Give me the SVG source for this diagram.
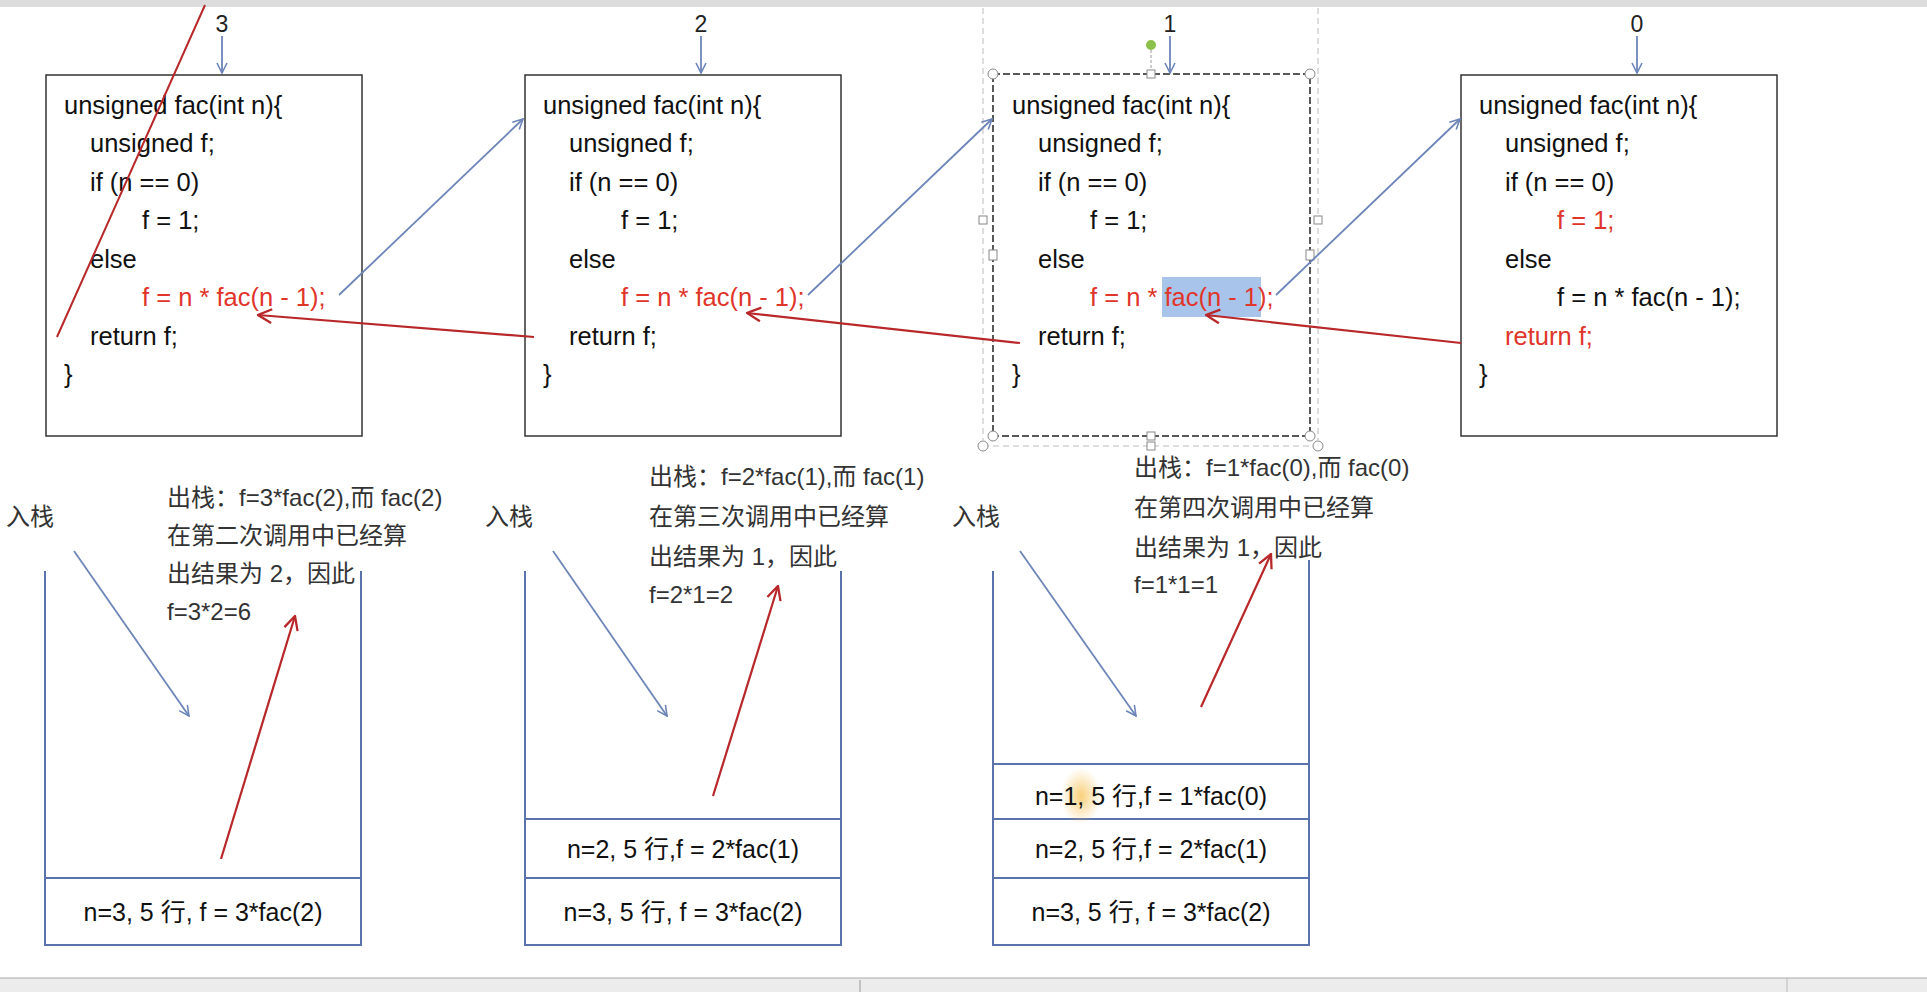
<svg xmlns="http://www.w3.org/2000/svg" width="1927" height="992" viewBox="0 0 1927 992">
<defs>
<style>
.code{font-family:"Liberation Sans","Noto Sans CJK SC",sans-serif;font-size:25.5px;fill:#111}
.r{fill:#e0352b}
.box{fill:#fff;stroke:#333;stroke-width:1.5}
.num{font-family:"Liberation Sans",sans-serif;font-size:23px;fill:#222;text-anchor:middle}
.note{font-family:"Liberation Sans","Noto Sans CJK SC",sans-serif;font-size:24px;fill:#333}
.stk{font-family:"Liberation Sans","Noto Sans CJK SC",sans-serif;font-size:25px;fill:#111;text-anchor:middle}
.bl{stroke:#6d85b8;stroke-width:1.8;fill:none}
.rd{stroke:#b8282a;stroke-width:2.2;fill:none}
.sl{stroke:#5a73ad;stroke-width:2;fill:none}
.h{fill:#fff;stroke:#888;stroke-width:1}
</style>
<marker id="ab" viewBox="0 0 12 12" refX="11" refY="6" markerWidth="12" markerHeight="12" markerUnits="userSpaceOnUse" orient="auto"><path d="M1,1 L11,6 L1,11" fill="none" stroke="#6d85b8" stroke-width="1.6"/></marker>
<marker id="ar" viewBox="0 0 14 14" refX="13" refY="7" markerWidth="16" markerHeight="16" markerUnits="userSpaceOnUse" orient="auto"><path d="M1,1 L13,7 L1,13" fill="none" stroke="#b8282a" stroke-width="2"/></marker>
<radialGradient id="og"><stop offset="0" stop-color="#f7c45a" stop-opacity="0.8"/><stop offset="1" stop-color="#f7c45a" stop-opacity="0"/></radialGradient>
</defs>
<rect width="1927" height="992" fill="#fff"/>
<rect x="0" y="0" width="1927" height="7" fill="#dcdcdc"/>
<rect x="0" y="978" width="1927" height="14" fill="#ececec"/>
<line x1="0" y1="978" x2="1927" y2="978" stroke="#aaa"/>
<line x1="860" y1="980" x2="860" y2="992" stroke="#999"/>
<line x1="1787" y1="978" x2="1787" y2="992" stroke="#bbb"/>

<g id="box1">
<rect class="box" x="46" y="75" width="316" height="361"/>
<text class="code" x="64" y="114">unsigned fac(int n){</text>
<text class="code" x="90" y="152">unsigned f;</text>
<text class="code" x="90" y="191">if (n == 0)</text>
<text class="code" x="142" y="229">f = 1;</text>
<text class="code" x="90" y="268">else</text>
<text class="code r" x="142" y="306">f = n * fac(n - 1);</text>
<text class="code" x="90" y="345">return f;</text>
<text class="code" x="64" y="383">}</text>
</g>
<g id="box2">
<rect class="box" x="525" y="75" width="316" height="361"/>
<text class="code" x="543" y="114">unsigned fac(int n){</text>
<text class="code" x="569" y="152">unsigned f;</text>
<text class="code" x="569" y="191">if (n == 0)</text>
<text class="code" x="621" y="229">f = 1;</text>
<text class="code" x="569" y="268">else</text>
<text class="code r" x="621" y="306">f = n * fac(n - 1);</text>
<text class="code" x="569" y="345">return f;</text>
<text class="code" x="543" y="383">}</text>
</g>
<g id="box3">
<line x1="983" y1="8" x2="983" y2="440" stroke="#bbb" stroke-dasharray="6,4"/>
<line x1="1318" y1="8" x2="1318" y2="440" stroke="#bbb" stroke-dasharray="6,4"/>
<line x1="983" y1="446" x2="1318" y2="446" stroke="#bbb" stroke-dasharray="6,4"/>
<rect x="993" y="74" width="317" height="362" fill="#fff" stroke="#222" stroke-width="1.5" stroke-dasharray="7,3"/>
<line x1="1151" y1="50" x2="1151" y2="74" stroke="#999" stroke-dasharray="3,2"/>
<circle cx="1151" cy="45" r="5" fill="#8cc04a"/>
<rect x="1162" y="277" width="99" height="40" fill="#a9c4ea"/>
<text class="code" x="1012" y="114">unsigned fac(int n){</text>
<text class="code" x="1038" y="152">unsigned f;</text>
<text class="code" x="1038" y="191">if (n == 0)</text>
<text class="code" x="1090" y="229">f = 1;</text>
<text class="code" x="1038" y="268">else</text>
<text class="code r" x="1090" y="306">f = n * fac(n - 1);</text>
<text class="code" x="1038" y="345">return f;</text>
<text class="code" x="1012" y="383">}</text>
<circle class="h" cx="993" cy="74" r="5"/><circle class="h" cx="1310" cy="74" r="5"/>
<circle class="h" cx="993" cy="436" r="5"/><circle class="h" cx="1310" cy="436" r="5"/>
<circle class="h" cx="983" cy="446" r="5"/><circle class="h" cx="1318" cy="446" r="5"/>
<rect class="h" x="1147" y="70" width="8" height="8"/><rect class="h" x="1147" y="432" width="8" height="8"/><rect class="h" x="1147" y="442" width="8" height="8"/>
<rect class="h" x="979" y="216" width="8" height="8"/><rect class="h" x="1314" y="216" width="8" height="8"/>
<rect class="h" x="989" y="250" width="8" height="10"/><rect class="h" x="1306" y="250" width="8" height="10"/>
</g>
<g id="box4">
<rect class="box" x="1461" y="75" width="316" height="361"/>
<text class="code" x="1479" y="114">unsigned fac(int n){</text>
<text class="code" x="1505" y="152">unsigned f;</text>
<text class="code" x="1505" y="191">if (n == 0)</text>
<text class="code r" x="1557" y="229">f = 1;</text>
<text class="code" x="1505" y="268">else</text>
<text class="code" x="1557" y="306">f = n * fac(n - 1);</text>
<text class="code r" x="1505" y="345">return f;</text>
<text class="code" x="1479" y="383">}</text>
</g>

<g id="labels">
<text class="num" x="222" y="32">3</text>
<text class="num" x="701" y="32">2</text>
<text class="num" x="1170" y="32">1</text>
<text class="num" x="1637" y="32">0</text>
<text class="note" x="6" y="525">入栈</text>
<text class="note" x="485" y="525">入栈</text>
<text class="note" x="952" y="525">入栈</text>
<text class="note" x="167" y="506">出栈：f=3*fac(2),而 fac(2)</text>
<text class="note" x="167" y="544">在第二次调用中已经算</text>
<text class="note" x="167" y="582">出结果为 2，因此</text>
<text class="note" x="167" y="620">f=3*2=6</text>
<text class="note" x="649" y="485">出栈：f=2*fac(1),而 fac(1)</text>
<text class="note" x="649" y="525">在第三次调用中已经算</text>
<text class="note" x="649" y="565">出结果为 1，因此</text>
<text class="note" x="649" y="603">f=2*1=2</text>
<text class="note" x="1134" y="476">出栈：f=1*fac(0),而 fac(0)</text>
<text class="note" x="1134" y="516">在第四次调用中已经算</text>
<text class="note" x="1134" y="556">出结果为 1，因此</text>
<text class="note" x="1134" y="593">f=1*1=1</text>
</g>

<g id="stack1">
<path class="sl" d="M45,571 V945 H361 V571"/>
<line class="sl" x1="45" y1="878" x2="361" y2="878"/>
<text class="stk" x="203" y="921">n=3, 5 行, f = 3*fac(2)</text>
</g>
<g id="stack2">
<path class="sl" d="M525,571 V945 H841 V571"/>
<line class="sl" x1="525" y1="819" x2="841" y2="819"/>
<line class="sl" x1="525" y1="878" x2="841" y2="878"/>
<text class="stk" x="683" y="858">n=2, 5 行,f = 2*fac(1)</text>
<text class="stk" x="683" y="921">n=3, 5 行, f = 3*fac(2)</text>
</g>
<g id="stack3">
<path class="sl" d="M993,571 V945 H1309 V560"/>
<line class="sl" x1="993" y1="764" x2="1309" y2="764"/>
<line class="sl" x1="993" y1="819" x2="1309" y2="819"/>
<line class="sl" x1="993" y1="878" x2="1309" y2="878"/>
<ellipse cx="1081" cy="796" rx="20" ry="28" fill="url(#og)"/>
<text class="stk" x="1151" y="805">n=1, 5 行,f = 1*fac(0)</text>
<text class="stk" x="1151" y="858">n=2, 5 行,f = 2*fac(1)</text>
<text class="stk" x="1151" y="921">n=3, 5 行, f = 3*fac(2)</text>
</g>

<g id="connectors">
<line class="bl" x1="222" y1="36" x2="222" y2="73" marker-end="url(#ab)"/>
<line class="bl" x1="701" y1="36" x2="701" y2="73" marker-end="url(#ab)"/>
<line class="bl" x1="1170" y1="36" x2="1170" y2="73" marker-end="url(#ab)"/>
<line class="bl" x1="1637" y1="36" x2="1637" y2="73" marker-end="url(#ab)"/>
<line x1="205" y1="5" x2="57" y2="337" stroke="#b8282a" stroke-width="2"/>
<line class="bl" x1="339" y1="295" x2="523" y2="119" marker-end="url(#ab)"/>
<line class="bl" x1="808" y1="295" x2="992" y2="119" marker-end="url(#ab)"/>
<line class="bl" x1="1276" y1="295" x2="1460" y2="119" marker-end="url(#ab)"/>
<line class="rd" x1="534" y1="337" x2="258" y2="315" marker-end="url(#ar)"/>
<line class="rd" x1="1020" y1="343" x2="747" y2="313" marker-end="url(#ar)"/>
<line class="rd" x1="1461" y1="343" x2="1206" y2="315" marker-end="url(#ar)"/>
<line class="bl" x1="74" y1="551" x2="189" y2="716" marker-end="url(#ab)"/>
<line class="bl" x1="553" y1="551" x2="667" y2="716" marker-end="url(#ab)"/>
<line class="bl" x1="1020" y1="551" x2="1136" y2="716" marker-end="url(#ab)"/>
<line class="rd" x1="221" y1="859" x2="295" y2="616" marker-end="url(#ar)"/>
<line class="rd" x1="713" y1="796" x2="778" y2="586" marker-end="url(#ar)"/>
<line class="rd" x1="1201" y1="707" x2="1271" y2="554" marker-end="url(#ar)"/>
</g>
</svg>
